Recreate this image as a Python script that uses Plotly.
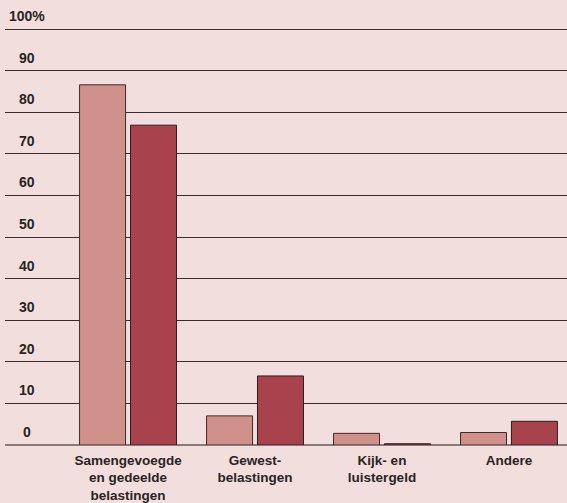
import plotly.graph_objects as go

categories = ["Samengevoegde<br>en gedeelde<br>belastingen", "Gewest-<br>belastingen", "Kijk- en<br>luistergeld", "Andere"]
series_a = [86.6, 7.0, 2.8, 3.0]
series_b = [76.9, 16.6, 0.3, 5.7]
y_ticks = [0, 10, 20, 30, 40, 50, 60, 70, 80, 90, 100]
y_tick_labels = ["0", "10", "20", "30", "40", "50", "60", "70", "80", "90", "100%"]

BG = "#f2dfdd"
FONT = "Liberation Sans, Arial, sans-serif"
TXT = "#2b2323"

x_pos = list(range(len(categories)))

fig = go.Figure()
fig.add_trace(go.Bar(x=x_pos, y=series_a, marker=dict(color="#d0918b", line=dict(color="#3a2b2b", width=1)), showlegend=False))
fig.add_trace(go.Bar(x=x_pos, y=series_b, marker=dict(color="#a8434d", line=dict(color="#2a1e1e", width=1)), showlegend=False))

plot_left, plot_w = 5, 562
annotations = []
for v, lab in zip(y_ticks, y_tick_labels):
    annotations.append(dict(x=(27 - plot_left) / plot_w, xref="paper", y=v, yref="y",
                            text=f"<b>{lab}</b>", showarrow=False, xanchor="center", yanchor="bottom",
                            yshift=3, font=dict(family=FONT, size=14, color=TXT)))

fig.update_layout(
    width=567, height=503,
    margin=dict(l=5, r=0, t=27, b=58, pad=0),
    paper_bgcolor=BG, plot_bgcolor=BG,
    barmode="group", bargap=0.198, bargroupgap=0.097,
    annotations=annotations,
    xaxis=dict(range=[-0.969, 3.457], tickvals=x_pos,
               ticktext=[f"<b>{c}</b>" for c in categories],
               tickfont=dict(family=FONT, size=13.5, color=TXT),
               ticklabelstandoff=5,
               showgrid=False, zeroline=False, showline=False, ticks="", fixedrange=True),
    yaxis=dict(range=[0, 100.5], tickvals=y_ticks, showticklabels=False,
               showgrid=True, gridcolor="#3b2b2b", gridwidth=1.3,
               zeroline=True, zerolinecolor="#8a7a78", zerolinewidth=1.5,
               showline=False, ticks="", fixedrange=True),
)

fig.write_html("out.html", config={"displayModeBar": False},
               post_script="document.body.style.margin='0';document.body.style.padding='0';")
